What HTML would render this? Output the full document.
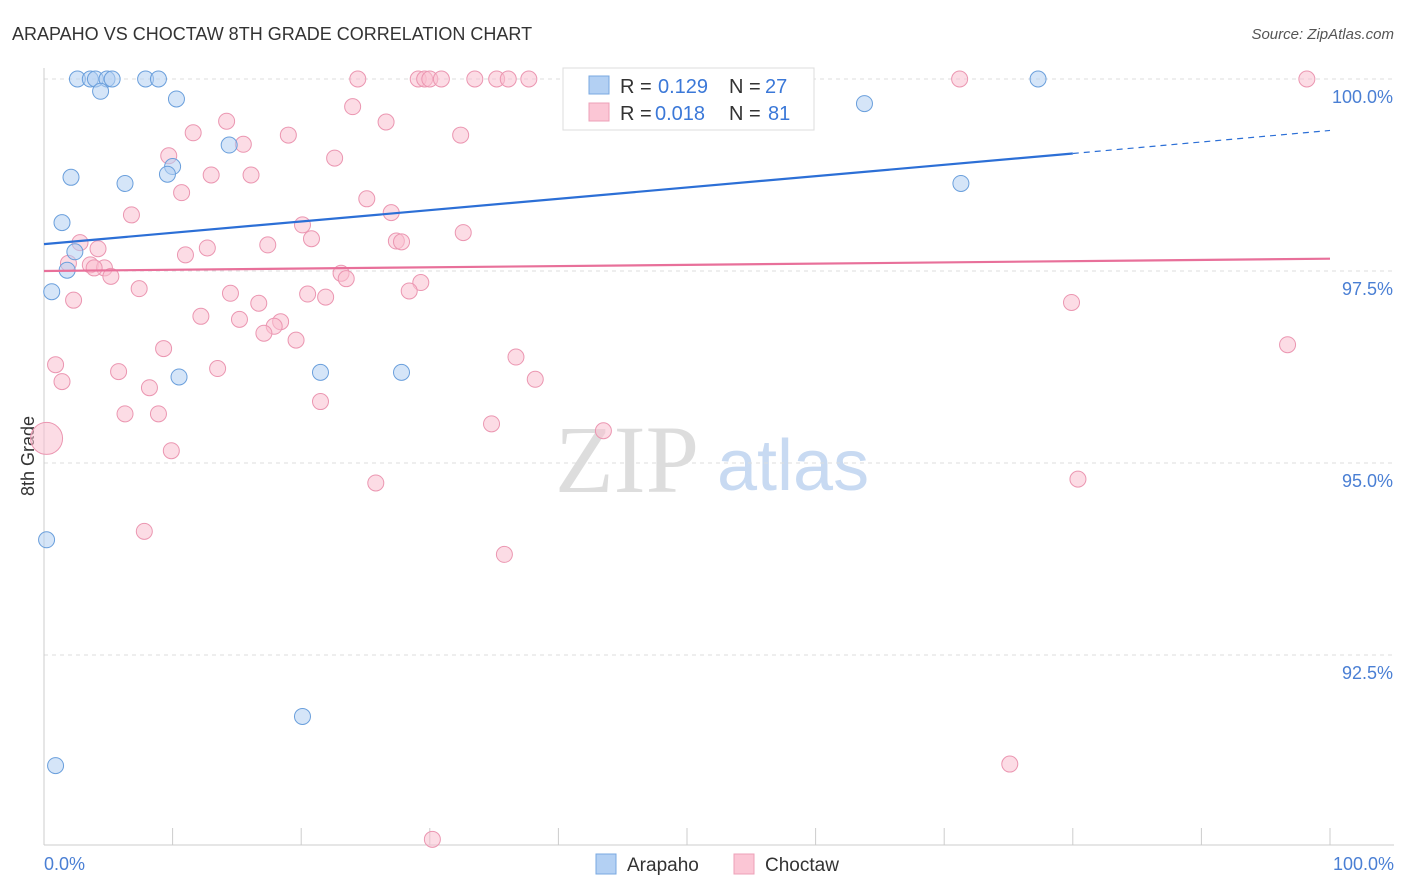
<!DOCTYPE html>
<html><head><meta charset="utf-8"><style>
body{margin:0;background:#fff;font-family:"Liberation Sans",sans-serif;}
svg{display:block}
</style></head><body>
<svg id="c" width="1406" height="892">
<text x="12" y="40" font-size="18" fill="#333">ARAPAHO VS CHOCTAW 8TH GRADE CORRELATION CHART</text>
<text x="1394" y="39" font-size="15" fill="#555" font-style="italic" text-anchor="end">Source: ZipAtlas.com</text>
<text x="34" y="456" font-size="18" fill="#333" transform="rotate(-90 34 456)" text-anchor="middle">8th Grade</text>
<text x="555" y="492" font-size="96" fill="#ddd" font-family="Liberation Serif,serif">ZIP</text>
<text x="717" y="490" font-size="72" fill="#c8daf2">atlas</text>
<g id="grid"></g><g id="pts"></g><g id="lines"></g>
<g>
<rect x="563" y="68" width="251" height="62" fill="#fff" stroke="#ddd"/>
<rect x="589" y="76" width="20" height="18" fill="#b3d0f3" stroke="#7aa8e0"/>
<rect x="589" y="103" width="20" height="18" fill="#fbc6d5" stroke="#eea0b8"/>
<text x="620" y="93" font-size="20" fill="#333">R =</text>
<text x="658" y="93" font-size="20" fill="#3b78d8">0.129</text>
<text x="729" y="93" font-size="20" fill="#333">N =</text>
<text x="765" y="93" font-size="20" fill="#3b78d8">27</text>
<text x="620" y="120" font-size="20" fill="#333">R =</text>
<text x="655" y="120" font-size="20" fill="#3b78d8">0.018</text>
<text x="729" y="120" font-size="20" fill="#333">N =</text>
<text x="768" y="120" font-size="20" fill="#3b78d8">81</text>
</g>
<g>
<rect x="596" y="854" width="20" height="20" fill="#b3d0f3" stroke="#7aa8e0"/>
<text x="627" y="871" font-size="19" fill="#333">Arapaho</text>
<rect x="734" y="854" width="20" height="20" fill="#fbc6d5" stroke="#eea0b8"/>
<text x="765" y="871" font-size="19" fill="#333">Choctaw</text>
</g>
</svg>
<script>
const yTicks=[100,97.5,95,92.5];
const yTickLabels=["100.0%","97.5%","95.0%","92.5%"];
const xLabels=["0.0%","100.0%"];
const arapahoX=[2.6,3.6,4.0,4.9,5.3,7.9,8.9,4.4,10.3,14.4,2.1,6.3,10.0,9.6,1.4,2.4,1.8,0.6,10.5,21.5,27.8,0.2,20.1,0.9,63.8,71.3,77.3];
const arapahoY=[100,100,100,100,100,100,100,99.84,99.74,99.14,98.72,98.64,98.86,98.76,98.13,97.75,97.51,97.23,96.12,96.18,96.18,94.0,91.7,91.06,99.68,98.64,100];
const choctawX=[24.4,29.1,29.6,30.0,30.9,33.5,35.2,36.1,37.7,45.5,71.2,98.2,24.0,14.2,26.6,11.6,19.0,32.4,15.5,9.7,22.6,13.0,16.1,10.7,25.1,6.8,27.0,20.1,32.6,20.8,2.8,12.7,17.4,27.4,27.8,4.2,11.0,1.9,3.6,4.7,3.9,5.2,23.1,23.5,29.3,7.4,14.5,28.4,20.5,21.9,2.3,16.7,12.2,15.2,18.4,17.9,17.1,19.6,9.3,0.9,5.8,13.5,36.7,1.4,8.2,38.2,21.5,6.3,8.9,34.8,43.5,0.2,9.9,25.8,7.8,35.8,79.9,96.7,80.4,75.1,30.2];
const choctawY=[100,100,100,100,100,100,100,100,100,100,100,100,99.64,99.45,99.44,99.3,99.27,99.27,99.15,99.0,98.97,98.75,98.75,98.52,98.44,98.23,98.26,98.1,98.0,97.92,97.87,97.8,97.84,97.89,97.88,97.79,97.71,97.6,97.58,97.54,97.54,97.43,97.47,97.4,97.35,97.27,97.21,97.24,97.2,97.16,97.12,97.08,96.91,96.87,96.84,96.78,96.69,96.6,96.49,96.28,96.19,96.23,96.38,96.06,95.98,96.09,95.8,95.64,95.64,95.51,95.42,95.32,95.16,94.74,94.11,93.81,97.09,96.54,94.79,91.08,90.1];
const X=v=>44+v/100*1286, Y=v=>79+(100-v)/2.5*192;
const NS="http://www.w3.org/2000/svg";
function mk(tag,a,parent){const e=document.createElementNS(NS,tag);for(const k in a)e.setAttribute(k,a[k]);document.getElementById(parent).appendChild(e);return e;}
yTicks.forEach((t,i)=>{
 const l=mk('line',{x1:44,x2:1394,y1:Y(t),y2:Y(t),stroke:'#ddd','stroke-dasharray':'4,4'},'grid');
 
 
 const tx=mk('text',{x:1393,y:Y(t)+24,'font-size':18,fill:'#4a7fd4','text-anchor':'end'},'grid');
 tx.textContent=yTickLabels[i];
 
 
});
const ax=mk('line',{x1:44,x2:44,y1:68,y2:845,stroke:'#ccc'},'grid');


const bx=mk('line',{x1:44,x2:1394,y1:845,y2:845,stroke:'#ccc'},'grid');


for(let i=0;i<=10;i++){const t=mk('line',{x1:X(i*10),x2:X(i*10),y1:828,y2:845,stroke:'#ccc'},'grid');
 
 }
xLabels.forEach((s,i)=>{const t=mk('text',{x:i?1394:44,y:870,'font-size':18,fill:'#4a7fd4','text-anchor':i?'end':'start'},'grid');t.textContent=s;
 
 });
function pts(xs,ys,fill,stroke,name){xs.forEach((x,i)=>{const r=(name==='choctaw-point'&&x<0.5)?16:8;
 const c=mk('circle',{cx:X(x),cy:Y(ys[i]),r:r,fill:fill,'fill-opacity':0.55,stroke:stroke,'stroke-width':1},'pts');
 
 });}
pts(choctawX,choctawY,'#f9c0d0','#eb96b1','choctaw-point');
pts(arapahoX,arapahoY,'#b3d0f3','#6a9fdc','arapaho-point');
const blueLine=[97.85,99.03,99.33], pinkLine=[97.5,97.66];
let l=mk('line',{x1:X(0),y1:Y(blueLine[0]),x2:X(80),y2:Y(blueLine[1]),stroke:'#2c6fd6','stroke-width':2.2},'lines');


l=mk('line',{x1:X(80),y1:Y(blueLine[1]),x2:X(100),y2:Y(blueLine[2]),stroke:'#2c6fd6','stroke-width':1.2,'stroke-dasharray':'6,5'},'lines');


l=mk('line',{x1:X(0),y1:Y(pinkLine[0]),x2:X(100),y2:Y(pinkLine[1]),stroke:'#e8709a','stroke-width':2.2},'lines');


</script>
</body></html>
